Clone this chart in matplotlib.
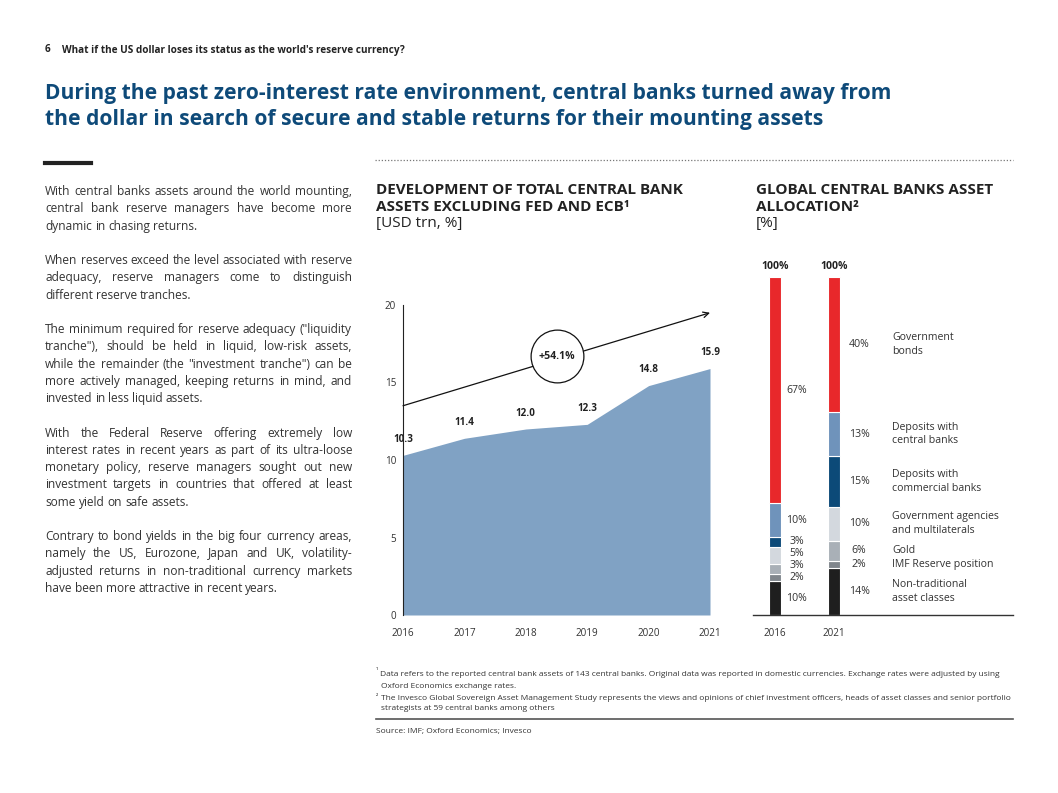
import matplotlib.pyplot as plt
import numpy as np

plt.rcParams['font.family'] = ['Open Sans', 'DejaVu Sans']

W, H = 1058, 793

# area chart data
years = [2016, 2017, 2018, 2019, 2020, 2021]
assets = [10.3, 11.4, 12.0, 12.3, 14.8, 15.9]
trend_start, trend_end = 13.5, 19.5
growth_label = '+54.1%'
growth_pos = (2018.5, 16.7)

# asset allocation data (bottom -> top)
alloc_years = ['2016', '2021']
alloc_cats = ['Non-traditional\nasset classes', 'IMF Reserve position', 'Gold',
              'Government agencies\nand multilaterals', 'Deposits with\ncommercial banks',
              'Deposits with\ncentral banks', 'Government\nbonds']
alloc_2016 = [10, 2, 3, 5, 3, 10, 67]
alloc_2021 = [14, 2, 6, 10, 15, 13, 40]
alloc_colors = ['#1f1f1f', '#80868c', '#a9b0b7', '#d3d8de', '#0c4a78', '#6f93bb', '#e8282b']

body = [
    ["With central banks assets around the world mounting,",
     "central bank reserve managers have become more",
     "dynamic in chasing returns."],
    ["When reserves exceed the level associated with reserve",
     "adequacy, reserve managers come to distinguish",
     "different reserve tranches."],
    ["The minimum required for reserve adequacy (\"liquidity",
     "tranche\"), should be held in liquid, low-risk assets,",
     "while the remainder (the \"investment tranche\") can be",
     "more actively managed, keeping returns in mind, and",
     "invested in less liquid assets."],
    ["With the Federal Reserve offering extremely low",
     "interest rates in recent years as part of its ultra-loose",
     "monetary policy, reserve managers sought out new",
     "investment targets in countries that offered at least",
     "some yield on safe assets."],
    ["Contrary to bond yields in the big four currency areas,",
     "namely the US, Eurozone, Japan and UK, volatility-",
     "adjusted returns in non-traditional currency markets",
     "have been more attractive in recent years."],
]

TXT = '#333333'
BLUE = '#0e4a79'


def fx(x):
    return x / W


def fy(y):
    return 1 - y / H


fig = plt.figure(figsize=(W / 100, H / 100), dpi=100)
renderer = fig.canvas.get_renderer()


def text_w(s, size, **kw):
    t = fig.text(0, 0, s, fontsize=size, **kw)
    w = t.get_window_extent(renderer).width
    t.remove()
    return w


def fit(s, target, **kw):
    return 10 * target / text_w(s, 10, **kw)


# header
hs = fit("What if the US dollar loses its status as the world's reserve currency?", 343, fontweight='bold')
fig.text(fx(45), fy(50), '6', fontsize=hs, fontweight='bold', color='#222', va='center')
fig.text(fx(62), fy(50), "What if the US dollar loses its status as the world's reserve currency?",
         fontsize=hs, fontweight='bold', color='#222', va='center')
title1 = 'During the past zero-interest rate environment, central banks turned away from'
title2 = 'the dollar in search of secure and stable returns for their mounting assets'
ts = fit(title1, 843, fontweight='bold')
fig.text(fx(45), fy(93), title1, fontsize=ts, fontweight='bold', color=BLUE, va='center')
fig.text(fx(45), fy(120), title2, fontsize=ts, fontweight='bold', color=BLUE, va='center')

fig.add_artist(plt.Line2D([fx(45), fx(91)], [fy(163), fy(163)], color='#222', lw=3))
fig.add_artist(plt.Line2D([fx(375), fx(1013)], [fy(160), fy(160)], color='#777',
                          lw=0.9, ls=(0, (1, 1.5))))

# justified body text
bs = fit(body[0][0], 300)
space = text_w('a a', bs) - text_w('aa', bs)


def justified(line, x0, x1, y, last):
    words = line.split()
    objs = [fig.text(0, fy(y), w, fontsize=bs, color=TXT, va='center') for w in words]
    widths = [o.get_window_extent(renderer).width for o in objs]
    gap = space if (last or len(words) == 1) else (x1 - x0 - sum(widths)) / (len(words) - 1)
    x = x0
    for o, w in zip(objs, widths):
        o.set_x(fx(x))
        x += w + gap


row = 0
for para in body:
    for i, line in enumerate(para):
        justified(line, 45, 352, 191.7 + 17.25 * row, i == len(para) - 1)
        row += 1
    row += 1

# chart titles
cs = fit('DEVELOPMENT OF TOTAL CENTRAL BANK', 308, fontweight='bold')
for x0, l1, l2, l3 in [(376, 'DEVELOPMENT OF TOTAL CENTRAL BANK', 'ASSETS EXCLUDING FED AND ECB¹', '[USD trn, %]'),
                       (756, 'GLOBAL CENTRAL BANKS ASSET', 'ALLOCATION²', '[%]')]:
    fig.text(fx(x0), fy(190), l1, fontsize=cs, fontweight='bold', color='#222', va='center')
    fig.text(fx(x0), fy(207), l2, fontsize=cs, fontweight='bold', color='#222', va='center')
    fig.text(fx(x0), fy(224), l3, fontsize=cs, color='#222', va='center')

ls = fit('IMF Reserve position', 101)

# ---- area chart
ax = fig.add_axes([fx(403), fy(615), (710 - 403) / W, (615 - 305) / H])
ax.fill_between(years, assets, color='#80a2c4', lw=0)
ax.set_xlim(2016, 2021)
ax.set_ylim(0, 20)
ax.set_yticks([0, 5, 10, 15, 20])
ax.set_xticks(years)
ax.tick_params(length=0, labelsize=ls * 0.95, colors=TXT)
ax.tick_params(axis='x', pad=9)
ax.tick_params(axis='y', pad=5)
for s in ['top', 'right', 'bottom']:
    ax.spines[s].set_visible(False)
ax.spines['left'].set_color('#222')
ax.spines['left'].set_linewidth(0.8)
for xv, yv in zip(years, assets):
    ax.annotate(f'{yv:.1f}', (xv, yv), xytext=(0, 11.5), textcoords='offset points',
                ha='center', va='center', fontsize=ls * 0.95, fontweight='bold', color='#222')
ax.annotate('', xy=(2021, trend_end), xytext=(2016, trend_start),
            arrowprops=dict(arrowstyle='->', color='#111', lw=0.9, mutation_scale=10,
                            shrinkA=0, shrinkB=0), annotation_clip=False, zorder=3)
ax.plot(*growth_pos, 'o', ms=38, mfc='white', mec='#111', mew=0.9, clip_on=False, zorder=4)
ax.text(*growth_pos, growth_label, ha='center', va='center', fontsize=ls,
        fontweight='bold', color='#222', zorder=5)

# ---- stacked bars
bx = fig.add_axes([fx(753), fy(615), (1013 - 753) / W, (615 - 276.7) / H])
xpos = np.arange(len(alloc_years))
min_gap = 12 * 100 / (615 - 276.7)  # keep small labels apart (in % units)
bottoms = np.zeros(2)
last_label = -np.inf
for k in range(len(alloc_cats)):
    vals = np.array([alloc_2016[k], alloc_2021[k]])
    bx.bar(xpos, vals, bottom=bottoms, width=0.2, color=alloc_colors[k],
           edgecolor='white', linewidth=0.8)
    centers = bottoms + vals / 2
    y16 = max(centers[0], last_label + min_gap)
    last_label = y16
    bx.annotate(f'{alloc_2016[k]}%', (0, y16), xytext=(15.5, 0), textcoords='offset points',
                ha='center', va='center', fontsize=ls, color=TXT)
    bx.annotate(f'{alloc_2021[k]}%', (1, centers[1]), xytext=(18, 0), textcoords='offset points',
                ha='center', va='center', fontsize=ls, color=TXT)
    bx.annotate(alloc_cats[k], (1, centers[1]), xytext=(42, 0), textcoords='offset points',
                ha='left', va='center', fontsize=ls, color=TXT, linespacing=1.3)
    bottoms += vals
for i in xpos:
    bx.annotate(f'{bottoms[i]:.0f}%', (i, bottoms[i]), xytext=(0, 7.5), textcoords='offset points',
                ha='center', va='center', fontsize=ls, fontweight='bold', color='#222')
bx.set_xlim(-0.373, 4.03)
bx.set_ylim(0, 100)
bx.set_xticks(xpos, alloc_years)
bx.set_yticks([])
bx.tick_params(length=0, labelsize=ls * 0.95, colors=TXT, pad=9)
for s in ['top', 'right', 'left']:
    bx.spines[s].set_visible(False)
bx.spines['bottom'].set_color('#333')
bx.spines['bottom'].set_linewidth(1)

# footnotes
fn1 = ('Data refers to the reported central bank assets of 143 central banks. Original data was '
       'reported in domestic currencies. Exchange rates were adjusted by using')
fs = fit(fn1, 618)
fig.text(fx(376), fy(672), '¹', fontsize=fs * 0.8, color=TXT, va='center')
fig.text(fx(380), fy(675), fn1, fontsize=fs, color=TXT, va='center')
fig.text(fx(381), fy(687), 'Oxford Economics exchange rates.', fontsize=fs, color=TXT, va='center')
fig.text(fx(376), fy(697), '²', fontsize=fs * 0.8, color=TXT, va='center')
fig.text(fx(381), fy(698), 'The Invesco Global Sovereign Asset Management Study represents the views and opinions of '
         'chief investment officers, heads of asset classes and senior portfolio', fontsize=fs, color=TXT, va='center')
fig.text(fx(381), fy(709), 'strategists at 59 central banks among others', fontsize=fs, color=TXT, va='center')
fig.add_artist(plt.Line2D([fx(376), fx(1013)], [fy(719), fy(719)], color='#555', lw=1.2))
fig.text(fx(376), fy(731), 'Source: IMF; Oxford Economics; Invesco', fontsize=fs, color=TXT, va='center')

fig.savefig('out.png', dpi=100)
